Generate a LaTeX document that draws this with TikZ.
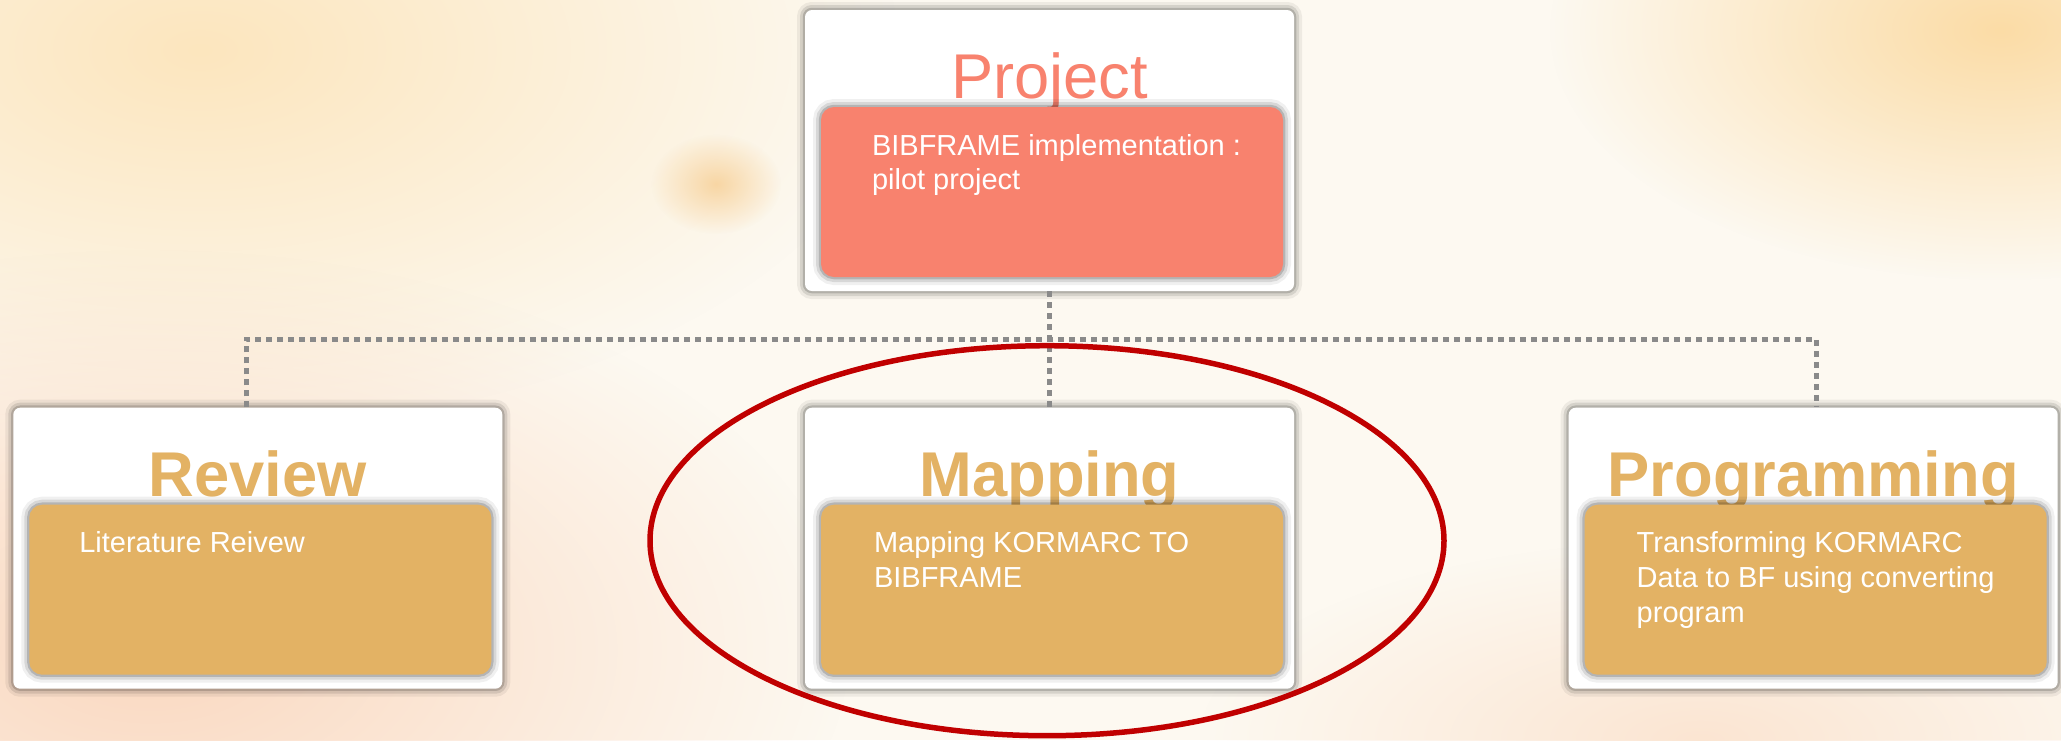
\documentclass[tikz,border=0pt]{standalone}
\usepackage{fontspec}
\setmainfont{Liberation Sans}
\usepackage{xcolor}
\usepackage{tikz}
\usetikzlibrary{positioning,fadings}
\definecolor{salmon}{HTML}{F8826E}
\definecolor{gold}{HTML}{E3B264}
\definecolor{ringred}{HTML}{C00000}
\definecolor{dotgray}{HTML}{8A8A8A}
\definecolor{bgbase}{HTML}{FDF9F1}
\definecolor{bgyellow}{HTML}{FCE6BE}
\definecolor{bgorange}{HTML}{FBDCA6}
\definecolor{bgpeach}{HTML}{FAD8C0}
\definecolor{bglight}{HTML}{FBE5D2}
\definecolor{bgglow}{HTML}{F8D6A4}
\tikzfading[name=bg-fade, inner color=transparent!0, outer color=transparent!100]
\tikzset{wbs-shadow/.style={preaction={draw=black, opacity=0.06, line width=0.32cm}, preaction={draw=black, opacity=0.1, line width=0.2cm}, preaction={draw=black, opacity=0.16, line width=0.09cm}}}
\tikzset{wbs-box/.style={wbs-shadow, fill=white, rounded corners=0.14cm, inner sep=0, minimum width=9.78cm, minimum height=5.62cm}}
\tikzset{wbs-body/.style={wbs-shadow, fill=gold, rounded corners=0.26cm, inner sep=0, minimum width=9.24cm, minimum height=3.4cm}}
\tikzset{wbs-title/.style={text=gold, inner sep=0, font=\fontsize{36}{40}\selectfont\bfseries}}
\tikzset{wbs-text/.style={text=white, inner sep=0, align=left, anchor=north west, font=\fontsize{16.5}{19.9}\selectfont}}
\tikzset{wbs-line/.style={draw=dotgray, line width=0.1cm, dash pattern=on 0.12cm off 0.1cm}}
\tikzset{wbs-ring/.style={draw=ringred, line width=0.11cm}}

\begin{document}
\begin{tikzpicture}[]
            \useasboundingbox (0,0) rectangle (41.22,-14.8);

            % background
            \begin{scope}
                \clip (0,0) rectangle (41.22,-14.8);
                \fill[bgbase] (0,0) rectangle (41.22,-14.8);
                \fill[bgyellow, path fading=bg-fade] (4,-1) ellipse (14cm and 7.6cm);
                \fill[bgorange, path fading=bg-fade] (40,-0.6) ellipse (9cm and 5cm);
                \fill[bgpeach, path fading=bg-fade] (3,-13) ellipse (14cm and 8cm);
                \fill[bglight, path fading=bg-fade] (34,-14.8) ellipse (10cm and 4cm);
                \fill[bgglow, path fading=bg-fade] (14.32,-3.68) ellipse (1.3cm and 1cm);
            \end{scope}

            \node[wbs-box] (project) at (20.99,-3.01) {};
            \node[wbs-box, below=2.32cm of project] (mapping) {};
            \node[wbs-box, left=6.04cm of mapping] (review) {};
            \node[wbs-box, right=5.48cm of mapping] (programming) {};

            \draw[wbs-line] (project) -- (mapping);
            \draw[wbs-line] ([xshift=-0.23cm]review.north) |- ([yshift=-0.96cm]project.south)
                -| ([xshift=0.07cm]programming.north);

            \node[wbs-title, text=salmon, font=\fontsize{36}{40}\selectfont, anchor=base] (project-title) at ([yshift=-1.78cm]project.north) {Project};
            \node[wbs-title, anchor=base] (review-title) at ([yshift=-1.78cm]review.north) {Review};
            \node[wbs-title, anchor=base] (mapping-title) at ([yshift=-1.78cm]mapping.north) {Mapping};
            \node[wbs-title, anchor=base] (programming-title) at ([yshift=-1.78cm]programming.north) {Programming};

            \node[wbs-body, fill=salmon, below=1.94cm of project.north, xshift=0.05cm] (project-body) {};
            \node[wbs-body, below=1.94cm of review.north, xshift=0.05cm] (review-body) {};
            \node[wbs-body, below=1.94cm of mapping.north, xshift=0.05cm] (mapping-body) {};
            \node[wbs-body, below=1.94cm of programming.north, xshift=0.05cm] (programming-body) {};

            \node[wbs-text] (project-text) at ([xshift=1.02cm, yshift=-0.54cm]project-body.north west) {BIBFRAME implementation :\\pilot project};
            \node[wbs-text] (review-text) at ([xshift=1.0cm, yshift=-0.54cm]review-body.north west) {Literature Reivew};
            \node[wbs-text] (mapping-text) at ([xshift=1.06cm, yshift=-0.54cm]mapping-body.north west) {Mapping KORMARC TO\\BIBFRAME};
            \node[wbs-text] (programming-text) at ([xshift=1.04cm, yshift=-0.54cm]programming-body.north west) {Transforming KORMARC\\Data to BF using converting\\program};

            \draw[wbs-ring] ([xshift=-0.05cm, yshift=0.15cm]mapping.center) ellipse (7.94cm and 3.9cm);

        \end{tikzpicture}
\end{document}
